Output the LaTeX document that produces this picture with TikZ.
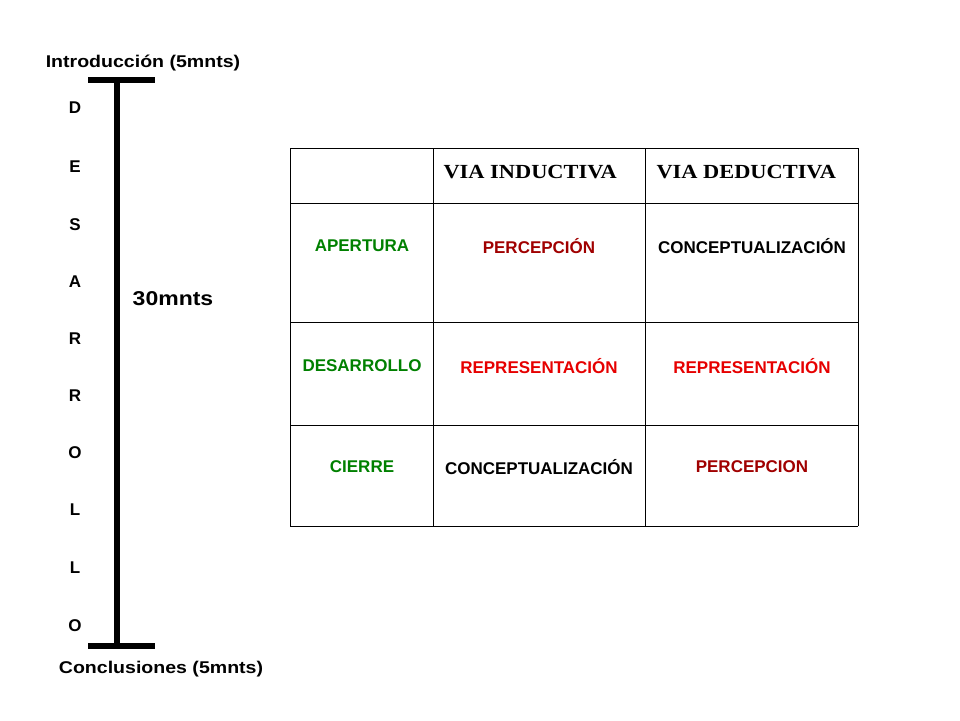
\documentclass[tikz,border=0pt]{standalone}
\usepackage{fontspec}
\setmainfont{Liberation Sans}
\newfontfamily\headfont{Liberation Serif}
\usetikzlibrary{positioning}
\definecolor{vgreen}{RGB}{0,128,0}
\definecolor{dred}{RGB}{160,0,0}
\definecolor{bred}{RGB}{230,0,0}
\newcommand{\wide}[2]{\scalebox{#1}[1]{#2}}
\begin{document}
\begin{tikzpicture}[x=1pt,y=-1pt,
    letter/.style={font=\fontsize{17}{19}\selectfont\bfseries},
    cell/.style={font=\fontsize{17}{19}\selectfont\bfseries},
    head/.style={font=\headfont\fontsize{20}{22}\selectfont\bfseries, anchor=west},
    ]
    \useasboundingbox (0,0) rectangle (960,720);
    % time bar
    \draw[line width=6pt] (117,80) -- (117,646);
    \draw[line width=6pt] (88,80) -- (155,80);
    \draw[line width=6pt] (88,646) -- (155,646);
    \node[letter] (intro) at (143,63) {\wide{1.15}{Introducción (5mnts)}};
    \node[letter] (concl) at (161,669) {\wide{1.15}{Conclusiones (5mnts)}};
    \node[font=\fontsize{20}{22}\selectfont\bfseries] (mid) at (173,299) {\wide{1.15}{30mnts}};
    \foreach \l/\y [count=\i] in {D/108,E/167,S/225,A/282,R/339,R/396,O/453,L/510,L/568,O/626}
        \node[letter] (l\i) at (75,\y) {\l};
    % table
    \foreach \x in {290,433,645,858} \draw (\x,148) -- (\x,526);
    \foreach \y in {148,203,322,425,526} \draw (290,\y) -- (858,\y);
    \node[head] (hind) at (440,172) {\wide{1.12}{VIA INDUCTIVA}};
    \node[head] (hded) at (653,172) {\wide{1.12}{VIA DEDUCTIVA}};
    \node[cell, vgreen] (ap) at (362,246) {\wide{1.0}{APERTURA}};
    \node[cell, dred] (ap1) at (539,246) {\wide{1.0}{PERCEPCIÓN}};
    \node[cell] (ap2) at (752,246) {\wide{1.0}{CONCEPTUALIZACIÓN}};
    \node[cell, vgreen] (de) at (362,366) {\wide{1.0}{DESARROLLO}};
    \node[cell, bred] (de1) at (539,366) {\wide{1.0}{REPRESENTACIÓN}};
    \node[cell, bred] (de2) at (752,366) {\wide{1.0}{REPRESENTACIÓN}};
    \node[cell, vgreen] (ci) at (362,467) {\wide{1.0}{CIERRE}};
    \node[cell] (ci1) at (539,467) {\wide{1.0}{CONCEPTUALIZACIÓN}};
    \node[cell, dred] (ci2) at (752,467) {\wide{1.0}{PERCEPCION}};
\end{tikzpicture}
\end{document}
